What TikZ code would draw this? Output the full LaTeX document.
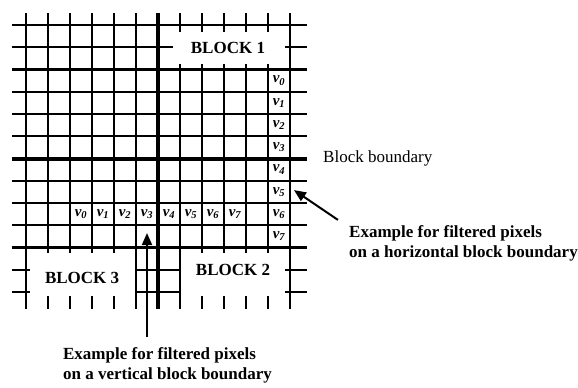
\documentclass[tikz,border=0pt]{standalone}
\usepackage{fontspec}
\setmainfont{Liberation Serif}
\usetikzlibrary{arrows.meta, positioning}

\tikzset{
  gridline/.style={line width=2.3pt},
  boundline/.style={line width=4pt},
  blocklabel/.style={font=\fontsize{17}{20}\selectfont\bfseries, inner sep=0pt},
  pixlabel/.style={font=\fontsize{15}{17}\selectfont\bfseries\itshape, inner sep=0pt},
  notetext/.style={font=\fontsize{17}{20}\selectfont\bfseries, align=left, inner sep=0pt},
}
\newcommand{\pix}[1]{v\textsubscript{#1}}

\begin{document}
\begin{tikzpicture}[x=22pt, y=-22.25pt]
    \useasboundingbox (-1.1818,-1.1236) rectangle (25.0909,16.3146);

    % horizontal lines that run through
    \foreach \j in {0,2,3,4,5,7,8,9,10}
        \draw[gridline] (-0.64,\j) -- (12.77,\j);
    % cut by block 1
    \draw[gridline] (-0.64,1) -- (6.68,1);
    \draw[gridline] (11.77,1) -- (12.77,1);
    % cut by blocks 3 and 2
    \foreach \j in {11,12} {
        \draw[gridline] (-0.64,\j) -- (0.18,\j);
        \draw[gridline] (5,\j) -- (7,\j);
        \draw[gridline] (11.77,\j) -- (12.77,\j);
    }

    % vertical lines
    \foreach \i in {0,5,12}
        \draw[gridline] (\i,-0.54) -- (\i,12.76);
    \draw[gridline] (7,-0.54) -- (7,0.31);
    \draw[gridline] (7,1.75) -- (7,12.76);
    \foreach \i in {8,...,11} {
        \draw[gridline] (\i,-0.54) -- (\i,0.31);
        \draw[gridline] (\i,1.75) -- (\i,10.25);
        \draw[gridline] (\i,12.18) -- (\i,12.76);
    }
    \foreach \i in {1,...,4} {
        \draw[gridline] (\i,-0.54) -- (\i,10.25);
        \draw[gridline] (\i,12.18) -- (\i,12.76);
    }

    % block boundaries
    \draw[boundline] (-0.64,6) -- (12.77,6);
    \draw[boundline] (6,-0.54) -- (6,12.76);

    \node[blocklabel] (blk1) at (9.18,1.03) {BLOCK 1};
    \node[blocklabel] (blk2) at (9.41,11.01) {BLOCK 2};
    \node[blocklabel] (blk3) at (2.55,11.37) {BLOCK 3};

    \foreach \k in {0,...,7} {
        \node[pixlabel] (hpix\k) at (11.5,\k+2.5) {\pix{\k}};
        \node[pixlabel] (vpix\k) at (\k+2.5,8.5) {\pix{\k}};
    }

    \node[anchor=west, font=\fontsize{17}{20}\selectfont, inner sep=0pt] (bound) at (13.5,6) {Block boundary};
    \node[notetext, anchor=west] (hnote) at (14.68,9.8) {Example for filtered pixels\\on a horizontal block boundary};
    \node[notetext, anchor=west] (vnote) at (1.68,15.3) {Example for filtered pixels\\on a vertical block boundary};

    \coordinate (htail) at (14.18,8.76);
    \coordinate (htip) at (12.18,7.42);
    \coordinate (vtail) at (5.5,14.02);
    \coordinate (vtip) at (5.5,9.35);
    \draw[-{Triangle[length=12pt, width=10pt]}, line width=2pt] (htail) -- (htip);
    \draw[-{Triangle[length=12pt, width=10pt]}, line width=2pt] (vtail) -- (vtip);
\end{tikzpicture}
\end{document}
